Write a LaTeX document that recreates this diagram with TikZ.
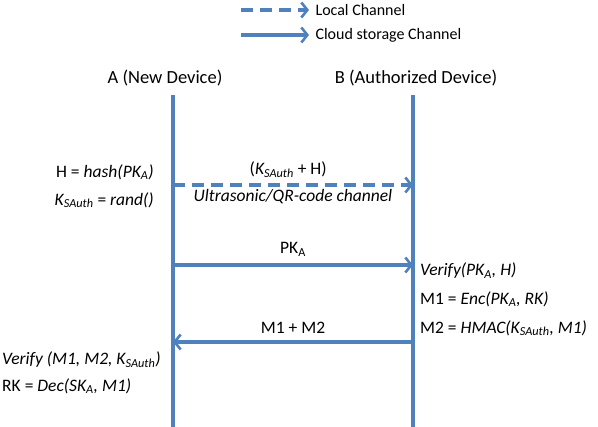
\documentclass[tikz,border=0pt]{standalone}
\usepackage{fontspec}
\setmainfont{Carlito}
\usepackage{tikz}
\usetikzlibrary{arrows.meta}
\definecolor{chanblue}{HTML}{4F81BD}
\tikzset{
    life-line/.style = {draw=chanblue, line width=3.3pt},
    cloud-arrow/.style = {draw=chanblue, line width=3.2pt, -{Straight Barb[length=6pt,width=15pt,line width=2.6pt]}},
    local-arrow/.style = {cloud-arrow, dash pattern=on 12pt off 7pt},
    msg-label/.style = {font=\fontsize{17.5}{20}\selectfont, inner sep=2pt},
    dev-label/.style = {font=\fontsize{18.5}{20}\selectfont},
    legend-label/.style = {font=\fontsize{16}{18}\selectfont, anchor=west},
}
\newcommand{\ksauth}{\textit{K\textsubscript{SAuth}}}

\begin{document}
\begin{tikzpicture}[x=1pt, y=-1pt]
\useasboundingbox (0,0) rectangle (598,427);
% legend
\coordinate (loc-start) at (241,10);
\coordinate (loc-end) at (309,10);
\coordinate (cld-start) at (241,35);
\coordinate (cld-end) at (309,35);
\draw[local-arrow] (loc-start) -- (loc-end);
\draw[cloud-arrow] (cld-start) -- (cld-end);
\node[legend-label] (loc-text) at (312,10) {Local Channel};
\node[legend-label] (cld-text) at (312,35) {Cloud storage Channel};

% devices and life lines
\node[dev-label] (dev-a) at (165,78) {A (New Device)};
\node[dev-label] (dev-b) at (416,78) {B (Authorized Device)};
\coordinate (a-top) at (173,95);
\coordinate (a-bot) at (173,427);
\coordinate (b-top) at (413,95);
\coordinate (b-bot) at (413,427);
\draw[life-line] (a-top) -- (a-bot);
\draw[life-line] (b-top) -- (b-bot);

% step 1: local channel
\node[msg-label, anchor=east] (hash) at (156,172) {H = \textit{hash(PK\textsubscript{A})}};
\node[msg-label, anchor=east] (rand) at (156,200) {\ksauth{} = \textit{rand()}};
\coordinate (a1) at (173,185);
\coordinate (b1) at (413,185);
\draw[local-arrow] (a1) -- (b1)
    node[msg-label, pos=0.48, above=4pt] (ksh) {(\ksauth{} + H)}
    node[msg-label, pos=0.5, below=1pt] (chan) {\textit{Ultrasonic/QR-code channel}};

% step 2: public key
\coordinate (a2) at (173,265);
\coordinate (b2) at (413,265);
\draw[cloud-arrow] (a2) -- (b2) node[msg-label, pos=0.5, above=5pt] (pk) {PK\textsubscript{A}};
\node[msg-label, anchor=west] (ver-b) at (418,271) {\textit{Verify(PK\textsubscript{A}, H)}};
\node[msg-label, anchor=west] (enc) at (418,299) {M1 = \textit{Enc(PK\textsubscript{A}, RK)}};
\node[msg-label, anchor=west] (hmac) at (418,328) {M2 = \textit{HMAC(\ksauth, M1)}};

% step 3: back to A
\coordinate (b3) at (413,342);
\coordinate (a3) at (173,342);
\draw[cloud-arrow] (b3) -- (a3) node[msg-label, pos=0.5, above=5pt] (m12) {M1 + M2};
\node[msg-label, anchor=west] (ver-a) at (0,360) {\textit{Verify (M1, M2, \ksauth)}};
\node[msg-label, anchor=west] (dec) at (0,386) {RK = \textit{Dec(SK\textsubscript{A}, M1)}};
\end{tikzpicture}
\end{document}
